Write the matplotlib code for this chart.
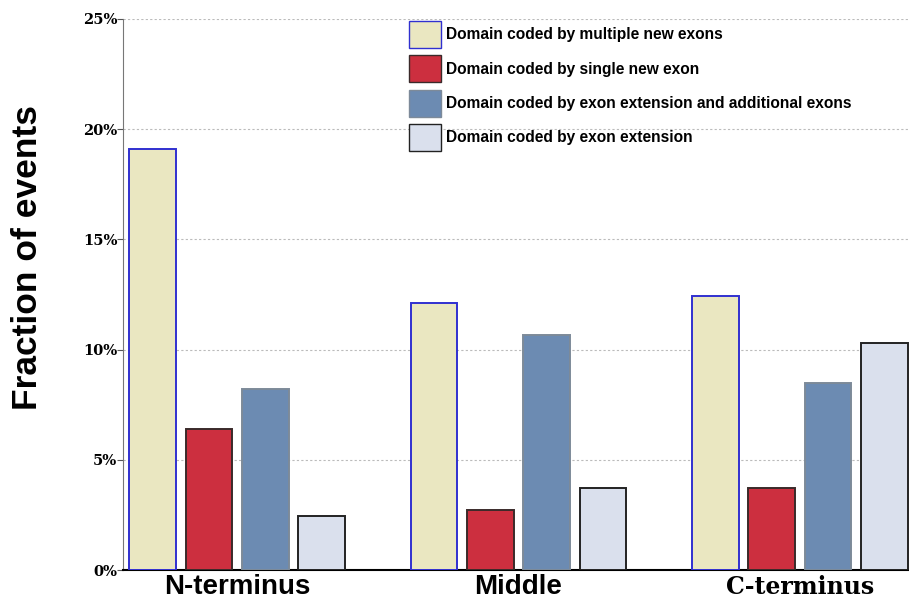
import matplotlib
matplotlib.use("Agg")
import matplotlib.pyplot as plt
from matplotlib.patches import Patch
import numpy as np

groups = ["N-terminus", "Middle", "C-terminus"]
series = [
    "Domain coded by multiple new exons",
    "Domain coded by single new exon",
    "Domain coded by exon extension and additional exons",
    "Domain coded by exon extension",
]
multiple_new = [19.1, 12.1, 12.45]
single_new = [6.4, 2.7, 3.7]
ext_additional = [8.2, 10.65, 8.5]
ext_only = [2.45, 3.7, 10.3]
yticks = [0, 5, 10, 15, 20, 25]

values = [multiple_new, single_new, ext_additional, ext_only]
faces = ["#EAE7C1", "#CC2F3F", "#6C8BB2", "#DAE0ED"]
edges = ["#3030D0", "#3a2a2a", "#7d8a99", "#222222"]

fig = plt.figure(figsize=(9.09, 6.02), dpi=100)
ax = fig.add_axes([123/909, 1-570/602, (909-123)/909, (570-19)/602])

width = 0.83
for s, vals in enumerate(values):
    xs = [g * 5 + s for g in range(len(groups))]
    ax.bar(xs, vals, width=width, color=faces[s], edgecolor=edges[s],
           linewidth=1.4, zorder=3)

ax.set_xlim(-0.53, 13.44)
ax.set_ylim(0, 25)
ax.set_yticks(yticks)
ax.set_yticklabels([f"{v}%" for v in yticks], family="DejaVu Serif",
                   fontweight="bold", fontsize=10.5)
ax.yaxis.grid(True, linestyle=(0, (2, 2)), color="#bbbbbb", linewidth=0.8, zorder=0)
ax.set_xticks([])
for sp in ["top", "right"]:
    ax.spines[sp].set_visible(False)
ax.spines["left"].set_color("#777777")
ax.spines["bottom"].set_color("black")
ax.spines["bottom"].set_linewidth(1.5)
ax.tick_params(axis="y", length=4, color="#555555", pad=0)

label_fonts = ["Liberation Sans", "Liberation Sans", "DejaVu Serif"]
label_sizes = [20, 20, 17]
for g, name in enumerate(groups):
    ax.text(g * 5 + 1.5, -0.031, name, transform=ax.get_xaxis_transform(),
            ha="center", va="center", fontsize=label_sizes[g],
            fontweight="bold", family=label_fonts[g])

fig.text(28/909, 1-258/602, "Fraction of events", rotation=90, ha="center",
         va="center", fontsize=25.5, fontweight="bold", family="Liberation Sans")

handles = [Patch(facecolor=faces[i], edgecolor=edges[i], linewidth=1.0) for i in range(4)]
leg = ax.legend(handles, series, loc="upper left", bbox_to_anchor=(409/909, 1-21/602),
                bbox_transform=fig.transFigure, frameon=False,
                prop={"family": "Liberation Sans", "weight": "bold", "size": 11.2},
                handlelength=2.06, handleheight=2.3, labelspacing=0.47,
                handletextpad=0.35, borderpad=0.0, borderaxespad=0.0)

fig.savefig("out.png", dpi=100)
